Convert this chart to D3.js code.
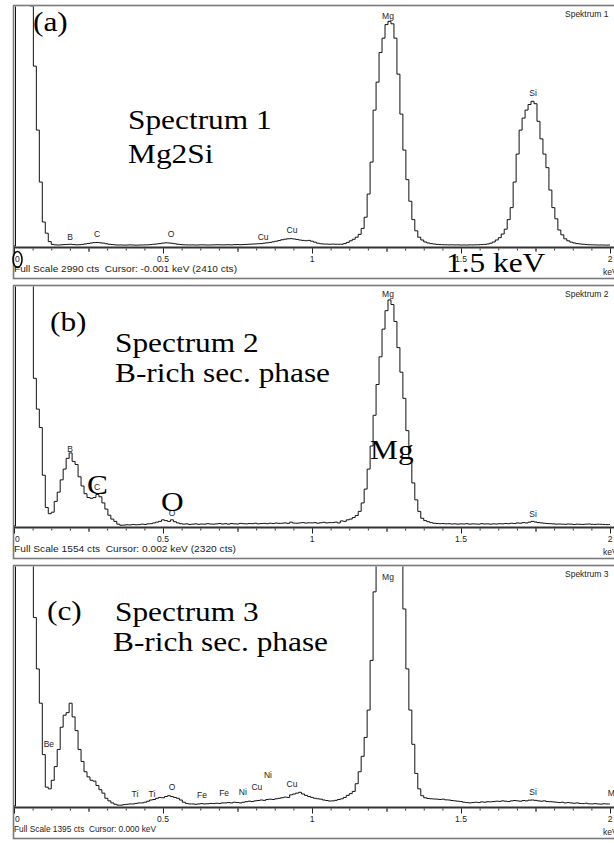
<!DOCTYPE html>
<html>
<head>
<meta charset="utf-8">
<script src="https://cdn.jsdelivr.net/npm/d3@7"></script>
<style>
  html, body { margin: 0; padding: 0; background: #fff; }
  svg { display: block; }
</style>
</head>
<body>
<svg id="chart" width="614" height="843"></svg>
<script>
// EDS spectra, counts per 10 eV channel from 0.00 to 2.00 keV
const channelStart = 0;
const channelWidth = 0.01;

const spectrumA = [
  0, 6000, 8000, 8000, 7000, 5200, 3000, 2250, 1450, 800,          // 0.00
  300, 160, 55, 20, 14, 12, 15, 18, 20, 22,                        // 0.10
  18, 15, 16, 20, 26, 32, 38, 42, 44, 40,                          // 0.20
  36, 28, 22, 18, 14, 12, 13, 11, 12, 14,                          // 0.30
  12, 10, 12, 13, 14, 15, 18, 22, 26, 30,                          // 0.40
  36, 40, 38, 34, 28, 22, 18, 15, 14, 13,                          // 0.50
  14, 12, 13, 15, 14, 12, 13, 14, 16, 15,                          // 0.60
  14, 15, 16, 14, 17, 18, 16, 18, 20, 22,                          // 0.70
  24, 26, 28, 30, 35, 40, 45, 52, 60, 68,                          // 0.80
  78, 85, 90, 92, 88, 82, 75, 70, 66, 70,                          // 0.90
  60, 48, 35, 28, 25, 24, 22, 24, 22, 22,                          // 1.00
  22, 30, 45, 65, 84, 110, 145, 220, 360, 650,                     // 1.10
  1050, 1700, 2050, 2420, 2600, 2770, 2810, 2780, 2600, 2150,      // 1.20
  1650, 1200, 830, 560, 330, 190, 110, 75, 50, 38,                 // 1.30
  30, 25, 20, 18, 16, 15, 14, 15, 13, 14,                          // 1.40
  12, 13, 12, 14, 13, 15, 16, 18, 20, 25,                          // 1.50
  35, 50, 75, 104, 150, 210, 330, 480, 800, 1150,                  // 1.60
  1450, 1600, 1700, 1770, 1810, 1780, 1560, 1340, 1150, 980,       // 1.70
  700, 480, 340, 200, 140, 90, 65, 48, 38, 30,                     // 1.80
  26, 22, 18, 16, 15, 14, 12, 13, 12, 11,                          // 1.90
  12                                                               // 2.00
];

const spectrumB = [
  0, 5000, 5000, 5000, 5000, 5000, 5000, 960, 760, 640,            // 0.00
  330, 120, 80, 90, 160, 220, 300, 370, 440, 475,                  // 0.10
  420, 400, 320, 260, 210, 185, 180, 185, 205, 190,                // 0.20
  150, 110, 70, 45, 30, 12, 5, 6, 8, 7,                            // 0.30
  10, 8, 9, 12, 10, 14, 15, 20, 25, 30,                            // 0.40
  40, 35, 30, 40, 28, 20, 15, 12, 14, 10,                          // 0.50
  12, 14, 11, 13, 12, 15, 13, 12, 14, 16,                          // 0.60
  13, 15, 12, 16, 14, 13, 17, 15, 14, 16,                          // 0.70
  15, 18, 14, 16, 17, 15, 18, 16, 19, 17,                          // 0.80
  18, 20, 17, 25, 19, 18, 20, 22, 19, 21,                          // 0.90
  20, 22, 18, 21, 24, 20, 22, 22, 25, 20,                          // 1.00
  33, 30, 40, 45, 55, 68, 95, 150, 240, 370,                       // 1.10
  520, 720, 920, 1100, 1280, 1400, 1470, 1440, 1330, 1160,         // 1.20
  1000, 830, 620, 440, 280, 170, 95, 50, 35, 28,                   // 1.30
  22, 18, 16, 15, 16, 14, 15, 13, 14, 12,                          // 1.40
  14, 13, 15, 12, 14, 13, 12, 15, 13, 14,                          // 1.50
  12, 14, 13, 15, 14, 16, 15, 18, 16, 20,                          // 1.60
  18, 22, 20, 25, 30, 26, 22, 20, 18, 16,                          // 1.70
  15, 14, 12, 13, 12, 11, 13, 12, 10, 12,                          // 1.80
  11, 10, 12, 13, 11, 10, 12, 11, 10, 9,                           // 1.90
  10                                                               // 2.00
];

const spectrumC = [
  0, 5000, 5000, 5000, 5000, 5000, 5000, 1100, 800, 600,           // 0.00
  300, 110, 100, 150, 230, 330, 460, 530, 545, 600,                // 0.10
  520, 440, 330, 260, 200, 170, 150, 145, 120, 95,                 // 0.20
  75, 45, 30, 18, 10, 5, 5, 8, 10, 12,                             // 0.30
  12, 15, 18, 18, 22, 28, 35, 38, 45, 50,                          // 0.40
  48, 55, 60, 55, 50, 45, 35, 22, 15, 12,                          // 0.50
  12, 10, 12, 14, 12, 13, 15, 14, 16, 15,                          // 0.60
  18, 18, 20, 18, 22, 20, 18, 22, 25, 28,                          // 0.70
  26, 30, 32, 35, 33, 38, 40, 38, 42, 45,                          // 0.80
  48, 52, 50, 65, 70, 75, 80, 70, 62, 55,                          // 0.90
  50, 45, 42, 40, 35, 32, 29, 30, 33, 38,                          // 1.00
  42, 50, 62, 72, 85, 130, 200, 290, 400, 560,                     // 1.10
  850, 1250, 1700, 2000, 2300, 2500, 2550, 2450, 2200, 1900,       // 1.20
  1500, 1150, 800, 560, 360, 190, 100, 60, 48, 44,                 // 1.30
  42, 41, 40, 38, 40, 36, 35, 32, 30, 28,                          // 1.40
  26, 22, 20, 18, 20, 22, 20, 24, 22, 25,                          // 1.50
  24, 26, 28, 27, 30, 28, 26, 30, 32, 30,                          // 1.60
  28, 32, 30, 34, 35, 33, 30, 28, 30, 26,                          // 1.70
  25, 24, 22, 20, 22, 18, 20, 18, 16, 18,                          // 1.80
  15, 14, 16, 13, 12, 14, 12, 11, 13, 12,                          // 1.90
  12                                                               // 2.00
];

const fullScales = [2990, 1554, 1395];
const spectrumNames = ["Spektrum 1", "Spektrum 2", "Spektrum 3"];
const statusLines = [
  "Full Scale 2990 cts  Cursor: -0.001 keV (2410 cts)",
  "Full Scale 1554 cts  Cursor: 0.002 keV (2320 cts)",
  "Full Scale 1395 cts  Cursor: 0.000 keV"
];

// energy axis
const tickValues = [0, 0.5, 1, 1.5, 2];
const tickLabels = ["0", "0.5", "1", "1.5", "2"];
const axisUnit = "keV";

// peak markers: [element, energy keV, label height in counts]
const peakLabelsA = [
  ["B", 0.188, 75], ["C", 0.279, 113], ["O", 0.527, 113],
  ["Cu", 0.836, 75], ["Cu", 0.933, 163], ["Mg", 1.255, 2840], ["Si", 1.742, 1877]
];
const peakLabelsB = [
  ["B", 0.188, 481], ["C", 0.279, 234], ["O", 0.530, 65],
  ["Mg", 1.255, 1489], ["Si", 1.742, 59]
];
const peakLabelsC = [
  ["Be", 0.117, 344], ["Ti", 0.406, 53], ["Ti", 0.463, 53], ["O", 0.530, 93],
  ["Fe", 0.631, 47], ["Fe", 0.705, 58], ["Ni", 0.768, 64], ["Cu", 0.815, 93],
  ["Ni", 0.852, 163], ["Cu", 0.933, 111], ["Mg", 1.255, 1319], ["Si", 1.742, 64],
  ["Mo", 2.012, 58]
];

// large annotations
const captionsA = ["(a)", "Spectrum 1", "Mg2Si", "1.5 keV"];
const captionsB = ["(b)", "Spectrum 2", "B-rich sec. phase", "Mg", "C", "O"];
const captionsC = ["(c)", "Spectrum 3", "B-rich sec. phase"];

const svg = d3.select("#chart");
const x = d3.scaleLinear().domain([0, 2]).range([14, 610]);
const spectra = [spectrumA, spectrumB, spectrumC];
const peakLabels = [peakLabelsA, peakLabelsB, peakLabelsC];

const panelHeight = 280;
const captionLayout = [
  [[33, 31], [128, 128.5], [128, 163], [446, 272]],
  [[50, 331], [115, 351.5], [115, 381.5], [370, 458.5], [87, 494], [161, 511]],
  [[47, 620], [115, 620.5], [113, 651]]
];
const statusWidths = [223, 222, 142];
const captions = [captionsA, captionsB, captionsC];
const serif = "'Liberation Serif', 'Times New Roman', serif";
const sans = "'Liberation Sans', Arial, sans-serif";

spectra.forEach((counts, p) => {
  const off = p * panelHeight;
  const g = svg.append("g");
  const y = d3.scaleLinear().domain([0, fullScales[p]]).range([off + 246, off + 7]);

  // panel frame
  g.append("rect")
    .attr("x", 13.5).attr("y", off + 5.5)
    .attr("width", 640).attr("height", 273)
    .attr("fill", "#fff").attr("stroke", "#7a7a7a").attr("stroke-width", 1.6);

  // clip region for the spectrum trace
  const clipId = "clip" + p;
  g.append("clipPath").attr("id", clipId)
    .append("rect").attr("x", 14).attr("y", off + 6.5)
    .attr("width", 620).attr("height", 240.5);

  const pts = counts.map((c, i) => [channelStart + i * channelWidth, c]);
  const line = d3.line().x(d => x(d[0])).y(d => y(d[1])).curve(d3.curveStep);
  g.append("path")
    .datum(pts)
    .attr("clip-path", `url(#${clipId})`)
    .attr("d", line)
    .attr("fill", "none")
    .attr("stroke", "#111")
    .attr("stroke-width", 1);

  // energy axis: thick base line with graded ticks
  const axisY = off + 247.5;
  g.append("line")
    .attr("x1", 14).attr("x2", 620)
    .attr("y1", axisY).attr("y2", axisY)
    .attr("stroke", "#333").attr("stroke-width", 2);

  const fine = d3.range(0, 2.0001, 0.0625);
  g.append("g").attr("transform", `translate(0,${axisY + 1})`)
    .call(d3.axisBottom(x).tickValues(fine).tickSize(2).tickFormat(""))
    .call(a => a.select(".domain").remove())
    .selectAll("line").attr("stroke", "#333");
  g.append("g").attr("transform", `translate(0,${axisY + 1})`)
    .call(d3.axisBottom(x).tickValues(d3.range(0.25, 2, 0.5)).tickSize(3.5).tickFormat(""))
    .call(a => a.select(".domain").remove())
    .selectAll("line").attr("stroke", "#333");
  g.append("g").attr("transform", `translate(0,${axisY + 1})`)
    .call(d3.axisBottom(x).tickValues(tickValues).tickSize(5).tickFormat(""))
    .call(a => a.select(".domain").remove())
    .selectAll("line").attr("stroke", "#222");

  g.selectAll("text.tick-label")
    .data(tickValues)
    .join("text")
    .attr("class", "tick-label")
    .attr("x", (d, i) => i === 0 ? x(d) + 1 : x(d))
    .attr("y", off + 262)
    .attr("text-anchor", (d, i) => i === 0 ? "start" : "middle")
    .attr("font-family", sans).attr("font-size", 8.5).attr("fill", "#222")
    .text((d, i) => tickLabels[i]);

  g.append("text")
    .attr("x", 603).attr("y", off + 275)
    .attr("font-family", sans).attr("font-size", 8.5).attr("fill", "#222")
    .text(axisUnit);

  g.append("text")
    .attr("x", 14).attr("y", off + 272)
    .attr("font-family", sans).attr("font-size", 9).attr("fill", "#222")
    .attr("xml:space", "preserve")
    .attr("textLength", statusWidths[p]).attr("lengthAdjust", "spacingAndGlyphs")
    .text(statusLines[p]);

  g.append("text")
    .attr("x", 565).attr("y", off + 17)
    .attr("font-family", sans).attr("font-size", 8.5).attr("fill", "#222")
    .text(spectrumNames[p]);

  // element markers over the peaks
  g.selectAll("text.peak")
    .data(peakLabels[p])
    .join("text")
    .attr("class", "peak")
    .attr("x", d => x(d[1]))
    .attr("y", d => y(d[2]))
    .attr("text-anchor", "middle")
    .attr("font-family", sans).attr("font-size", 8.5).attr("fill", "#222")
    .text(d => d[0]);

  // large serif captions
  captions[p].forEach((t, i) => {
    const [cx, cy] = captionLayout[p][i];
    g.append("text")
      .attr("transform", `translate(${cx},${cy}) scale(1.12,1)`)
      .attr("font-family", serif).attr("font-size", 28).attr("fill", "#000")
      .text(t);
  });
});

// marker ring around the zero label of the first panel
svg.append("ellipse")
  .attr("cx", x(0) + 3.5).attr("cy", 259.5)
  .attr("rx", 4.5).attr("ry", 8)
  .attr("fill", "none").attr("stroke", "#000").attr("stroke-width", 1.5);
</script>
</body>
</html>
